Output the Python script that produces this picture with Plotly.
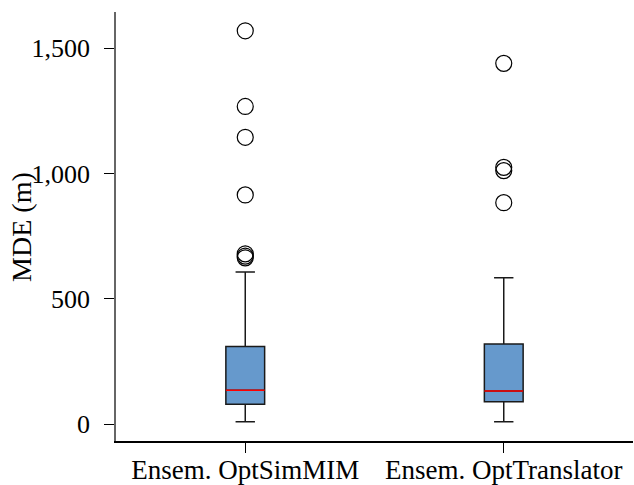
import plotly.graph_objects as go

categories = ["Ensem. OptSimMIM", "Ensem. OptTranslator"]
lower_whisker = [10, 10]
q1_values = [80, 90]
median_values = [136, 133]
q3_values = [310, 320]
upper_whisker = [607, 584]
outliers = [
    [1570, 1268, 1145, 915, 680, 671, 664],
    [1440, 1025, 1012, 884],
]
y_tickvals = [0, 500, 1000, 1500]

BOX_W = 0.15
FILL = "#6699CC"
FONT = "Liberation Serif"

fig = go.Figure()
positions = list(range(len(categories)))
for i, pos in enumerate(positions):
    fig.add_trace(go.Box(
        x=[pos], q1=[q1_values[i]], median=[median_values[i]], q3=[q3_values[i]],
        lowerfence=[lower_whisker[i]], upperfence=[upper_whisker[i]],
        width=BOX_W, whiskerwidth=0.5, fillcolor=FILL,
        line=dict(color="#1a1a1a", width=1.5), boxpoints=False,
        showlegend=False, hoverinfo="skip",
    ))
    fig.add_trace(go.Scatter(
        x=[pos - BOX_W / 2, pos + BOX_W / 2], y=[median_values[i]] * 2,
        mode="lines", line=dict(color="#ff0000", width=1.5),
        showlegend=False, hoverinfo="skip",
    ))
    fig.add_trace(go.Scatter(
        x=[pos] * len(outliers[i]), y=outliers[i], mode="markers",
        marker=dict(symbol="circle-open", size=16, color="#000000",
                    line=dict(width=1.2, color="#000000")),
        showlegend=False, hoverinfo="skip",
    ))

fig.update_layout(
    width=634, height=485,
    margin=dict(l=116, r=1, t=12, b=44),
    paper_bgcolor="white", plot_bgcolor="white",
    font=dict(family=FONT, size=26, color="#000000"),
    xaxis=dict(
        range=[-0.5, 1.5], tickmode="array", tickvals=positions, ticktext=categories,
        showgrid=False, zeroline=False, showline=True, linecolor="#000000", linewidth=1.5,
        ticks="outside", ticklen=10, tickwidth=1.2, tickcolor="#000000",
        ticklabelstandoff=-6, automargin=False,
        tickfont=dict(family=FONT, size=27),
    ),
    yaxis=dict(
        range=[-67, 1645], tickmode="array", tickvals=y_tickvals, tickformat=",d",
        showgrid=False, zeroline=False, showline=True, linecolor="#666666", linewidth=1.5,
        ticks="outside", ticklen=10, tickwidth=1.2, tickcolor="#000000",
        ticklabelstandoff=9, automargin=False,
        tickfont=dict(family=FONT, size=26),
    ),
    annotations=[dict(
        text="MDE (m)", textangle=-90, xref="paper", yref="paper",
        x=-0.183, y=0.5, xanchor="center", yanchor="middle", showarrow=False,
        font=dict(family=FONT, size=28, color="#000000"),
    )],
)

fig.write_html("out.html", config={"displayModeBar": False},
               post_script="document.body.style.margin='0';")
